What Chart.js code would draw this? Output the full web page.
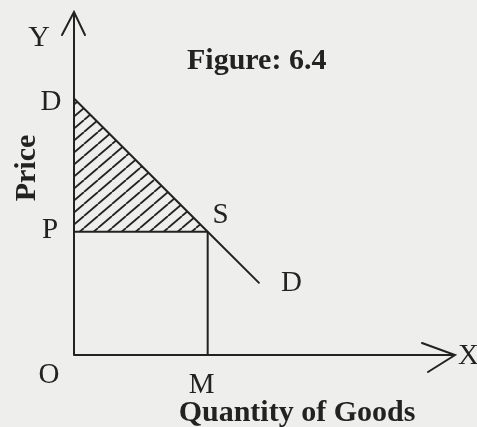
<!DOCTYPE html>
<html>
<head>
<meta charset="utf-8">
<script src="https://cdn.jsdelivr.net/npm/chart.js@4"></script>
<style>
  html, body { margin:0; padding:0; background:#eeeeec; }
  canvas { display:block; }
</style>
</head>
<body>
<canvas id="fig" width="477" height="427"></canvas>
<script>
// values in "units" of quantity / price
const axisMaxX = 11.4;
const axisMaxY = 10.3;
const demandX = [0, 4, 5.55];        // D (on Y axis), S, end of D line
const demandY = [7.7, 3.7, 2.15];
const priceP = 3.7;                  // OP
const quantityM = 4;                 // OM
const pointLabels = ['D', 'S', 'D'];

const INK = '#222';
const SERIF = '"Liberation Serif", "DejaVu Serif", serif';

// hatch pattern, lines running / at ~40 deg
function hatch() {
  const c = document.createElement('canvas');
  c.width = 14; c.height = 12;
  const g = c.getContext('2d');
  g.strokeStyle = INK;
  g.lineWidth = 1.8;
  [-14, 0, 14].forEach(dx => {
    g.beginPath();
    g.moveTo(dx, 12);
    g.lineTo(dx + 14, 0);
    g.stroke();
  });
  return g.createPattern(c, 'repeat');
}

const pts = (xs, ys) => xs.map((x, i) => ({ x, y: ys[i] }));

const line = (data, extra) => Object.assign({
  data, borderColor: INK, borderWidth: 2, pointRadius: 0,
  tension: 0, fill: false, clip: false
}, extra || {});

// axes, arrows and all text
const drawings = {
  id: 'drawings',
  afterDatasetsDraw(chart) {
    const { ctx, scales: { x, y } } = chart;
    const ox = x.getPixelForValue(0), oy = y.getPixelForValue(0);
    const tx = x.getPixelForValue(axisMaxX), ty = y.getPixelForValue(axisMaxY);
    ctx.save();
    ctx.strokeStyle = INK;
    ctx.lineWidth = 2;
    ctx.lineCap = 'round';
    ctx.beginPath();
    ctx.moveTo(ox, oy); ctx.lineTo(ox, ty);
    ctx.moveTo(ox - 12, ty + 23); ctx.lineTo(ox, ty); ctx.lineTo(ox + 11, ty + 23);
    ctx.moveTo(ox, oy); ctx.lineTo(tx, oy);
    ctx.moveTo(tx - 33, oy - 12); ctx.lineTo(tx, oy); ctx.lineTo(tx - 27, oy + 17);
    ctx.stroke();

    ctx.fillStyle = INK;
    const put = (t, cx, cy, size, bold) => {
      ctx.font = (bold ? 'bold ' : '') + size + 'px ' + SERIF;
      ctx.textAlign = 'center';
      ctx.textBaseline = 'alphabetic';
      ctx.fillText(t, cx, cy + size * 0.33);
    };
    const px = v => x.getPixelForValue(v), py = v => y.getPixelForValue(v);
    const offs = [[-23, 2], [13, -18], [32, -2]];
    pointLabels.forEach((t, i) => put(t, px(demandX[i]) + offs[i][0], py(demandY[i]) + offs[i][1], 29));
    put('P', ox - 24, py(priceP) - 3, 29);
    put('O', ox - 25, oy + 18, 29);
    put('M', px(quantityM) - 6, oy + 28, 29);
    put('Y', ox - 35, ty + 24, 30);
    ctx.textAlign = 'left';
    ctx.font = '29px ' + SERIF;
    ctx.fillText('X', tx + 3, oy + 9);

    ctx.font = 'bold 30px ' + SERIF;
    ctx.textAlign = 'left';
    ctx.fillText('Figure: 6.4', 187, 69);
    ctx.textAlign = 'center';
    ctx.fillText('Quantity of Goods', 297, 421);
    ctx.translate(35, 168);
    ctx.rotate(-Math.PI / 2);
    ctx.fillText('Price', 0, 0);
    ctx.restore();
  }
};

new Chart(document.getElementById('fig'), {
  type: 'line',
  data: {
    datasets: [
      // hatched triangle D-P-S
      line(pts(demandX.slice(0, 2), demandY.slice(0, 2)),
           { borderWidth: 0, fill: { value: priceP }, backgroundColor: hatch() }),
      line(pts(demandX, demandY)),
      line(pts([0, quantityM], [priceP, priceP])),
      line(pts([quantityM, quantityM], [priceP, 0]))
    ]
  },
  options: {
    responsive: false,
    animation: false,
    events: [],
    layout: { padding: { left: 74, top: 12, right: 22, bottom: 72 } },
    plugins: { legend: { display: false }, tooltip: { enabled: false }, title: { display: false } },
    scales: {
      x: { type: 'linear', min: 0, max: axisMaxX, display: false },
      y: { type: 'linear', min: 0, max: axisMaxY, display: false }
    }
  },
  plugins: [drawings]
});
</script>
</body>
</html>
